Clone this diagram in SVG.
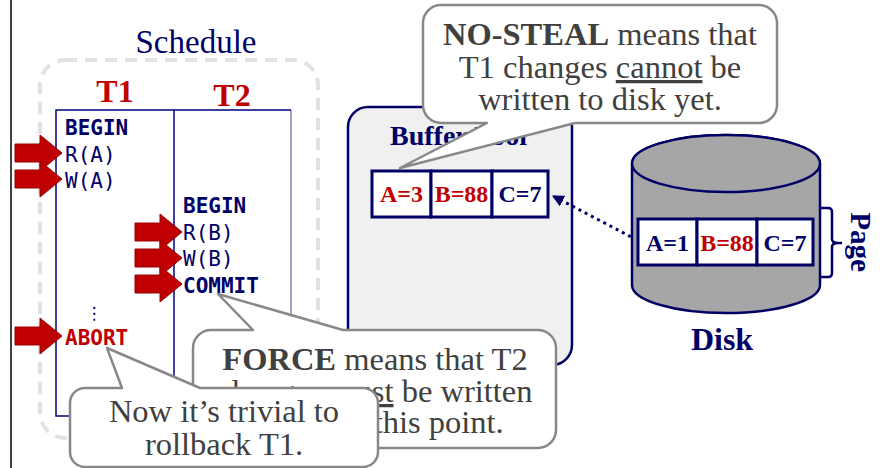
<svg xmlns="http://www.w3.org/2000/svg" xmlns:xlink="http://www.w3.org/1999/xlink" width="880" height="468" viewBox="0 0 880 468">
<style>
.serif{font-family:"Liberation Serif","Times New Roman",serif}
.mono{font-family:"DejaVu Sans Mono","Liberation Mono",monospace;font-size:21px;fill:#000066}
.b{font-weight:bold}
.navy{fill:#000066}
.red{fill:#c00000}
.call{fill:#ffffff;stroke:#888888;stroke-width:2.5;stroke-linejoin:round}
.ctext{font-family:"Liberation Serif","Times New Roman",serif;font-size:32.5px;fill:#404040;text-anchor:middle}
.cell{fill:#ffffff;stroke:#000066;stroke-width:3}
.val{font-family:"Liberation Serif","Times New Roman",serif;font-size:24px;font-weight:bold;text-anchor:middle}
</style>
<defs>
<path id="redArrow" d="M -47,-9 H -22 V -18 L 0,0 L -22,18 V 9 H -47 Z" fill="#c00000" stroke="#990000" stroke-width="1"/>
<marker id="navyHead" viewBox="0 0 10 10" refX="9" refY="5" markerWidth="4" markerHeight="4" orient="auto" markerUnits="strokeWidth">
<path d="M0,0 L10,5 L0,10 Z" fill="#000066"/>
</marker>
</defs>
<rect width="880" height="468" fill="#ffffff"/>
<line x1="11" y1="0" x2="11" y2="468" stroke="#404040" stroke-width="2"/>

<g id="schedule">
<text x="196" y="53" class="serif navy" font-size="33" text-anchor="middle">Schedule</text>
<rect x="40" y="60" width="278" height="378" rx="25" fill="none" stroke="#e2e2e2" stroke-width="4" stroke-dasharray="12 8"/>
<text x="115" y="102" class="serif b red" font-size="32" text-anchor="middle">T1</text>
<text x="232" y="106" class="serif b red" font-size="32" text-anchor="middle">T2</text>
<line x1="291" y1="110" x2="291" y2="416" stroke="#8080c0" stroke-width="1.5"/>
<polyline points="291,110 56,110 56,416 291,416" fill="none" stroke="#000080" stroke-width="1.5"/>
<line x1="174" y1="110" x2="174" y2="416" stroke="#000080" stroke-width="1.5"/>
<text x="65" y="135" class="mono b">BEGIN</text>
<text x="65" y="162" class="mono">R(A)</text>
<text x="65" y="188" class="mono">W(A)</text>
<text x="94" y="319" font-family="DejaVu Sans,sans-serif" font-size="17" fill="#000066" text-anchor="middle">⋮</text>
<text x="65" y="345" class="mono b" fill="#c00000" style="fill:#c00000">ABORT</text>
<text x="183" y="213" class="mono b">BEGIN</text>
<text x="183" y="240" class="mono">R(B)</text>
<text x="183" y="266" class="mono">W(B)</text>
<text x="183" y="293" class="mono b">COMMIT</text>
<use xlink:href="#redArrow" transform="translate(62,153)"/>
<use xlink:href="#redArrow" transform="translate(62,179)"/>
<use xlink:href="#redArrow" transform="translate(182,232)"/>
<use xlink:href="#redArrow" transform="translate(182,258)"/>
<use xlink:href="#redArrow" transform="translate(182,284)"/>
<use xlink:href="#redArrow" transform="translate(62,336)"/>
</g>

<g id="buffer-pool">
<rect x="348" y="107" width="224" height="258" rx="20" fill="#f0f0f0" stroke="#000066" stroke-width="2.5"/>
<text x="390" y="145" class="serif b navy" font-size="28">Buffer Pool</text>
<rect x="372" y="171" width="59" height="46" class="cell"/>
<rect x="431" y="171" width="61" height="46" class="cell"/>
<rect x="492" y="171" width="56" height="46" class="cell"/>
<text x="401.5" y="202" class="val red">A=3</text>
<text x="461.5" y="202" class="val red">B=88</text>
<text x="520" y="202" class="val navy">C=7</text>
</g>

<g id="connectors">
<line x1="637" y1="240" x2="553" y2="196" stroke="#000066" stroke-width="3" stroke-dasharray="3 4" marker-end="url(#navyHead)"/>
</g>

<g id="disk">
<path d="M632,163.5 A94,28.5 0 0 1 820,163.5 V285 A94,28 0 0 1 632,285 Z" fill="#a6a6a6" stroke="#000066" stroke-width="2.5"/>
<ellipse cx="726" cy="163.5" rx="94" ry="28.5" fill="#a6a6a6" stroke="#000066" stroke-width="2.5"/>
<rect x="638" y="219" width="59" height="46" class="cell"/>
<rect x="697" y="219" width="60" height="46" class="cell"/>
<rect x="757" y="219" width="56" height="46" class="cell"/>
<text x="667.5" y="251" class="val navy">A=1</text>
<text x="727" y="251" class="val red">B=88</text>
<text x="785" y="251" class="val navy">C=7</text>
<path d="M821,208 H828 Q832,208 832,212 V239 Q832,243 838,243 H842 M838,243 Q832,243 832,247 V273 Q832,277 828,277 H821" fill="none" stroke="#000066" stroke-width="2.5"/>
<text transform="translate(851,242) rotate(90)" class="serif b navy" font-size="29" text-anchor="middle">Page</text>
<text x="722" y="350" class="serif b navy" font-size="32" text-anchor="middle">Disk</text>
</g>

<g id="callout-nosteal">
<path class="call" d="M441,5 H759 A18,18 0 0 1 777,23 V105 A18,18 0 0 1 759,123 H575 L400,168 L487,123 H441 A18,18 0 0 1 423,105 V23 A18,18 0 0 1 441,5 Z"/>
<text x="600" y="45" class="ctext"><tspan font-weight="bold">NO-STEAL</tspan> means that</text>
<text x="600" y="78" class="ctext">T1 changes <tspan text-decoration="underline">cannot</tspan> be</text>
<text x="600" y="110" class="ctext">written to disk yet.</text>
</g>

<g id="callout-force">
<path class="call" d="M211,330 H253 L218,294 L343,330 H538 A18,18 0 0 1 556,348 V430 A18,18 0 0 1 538,448 H211 A18,18 0 0 1 193,430 V348 A18,18 0 0 1 211,330 Z"/>
<text x="375" y="370" class="ctext"><tspan font-weight="bold">FORCE</tspan> means that T2</text>
<text x="375" y="402" class="ctext">changes <tspan text-decoration="underline">must</tspan> be written</text>
<text x="375" y="433" class="ctext">to disk at this point.</text>
</g>

<g id="callout-rollback">
<path class="call" d="M85,388 H122 L107,348 L200,388 H363 A15,15 0 0 1 378,403 V452 A15,15 0 0 1 363,467 H85 A15,15 0 0 1 70,452 V403 A15,15 0 0 1 85,388 Z"/>
<text x="224" y="422" class="ctext">Now it’s trivial to</text>
<text x="224" y="455" class="ctext">rollback T1.</text>
</g>
</svg>
